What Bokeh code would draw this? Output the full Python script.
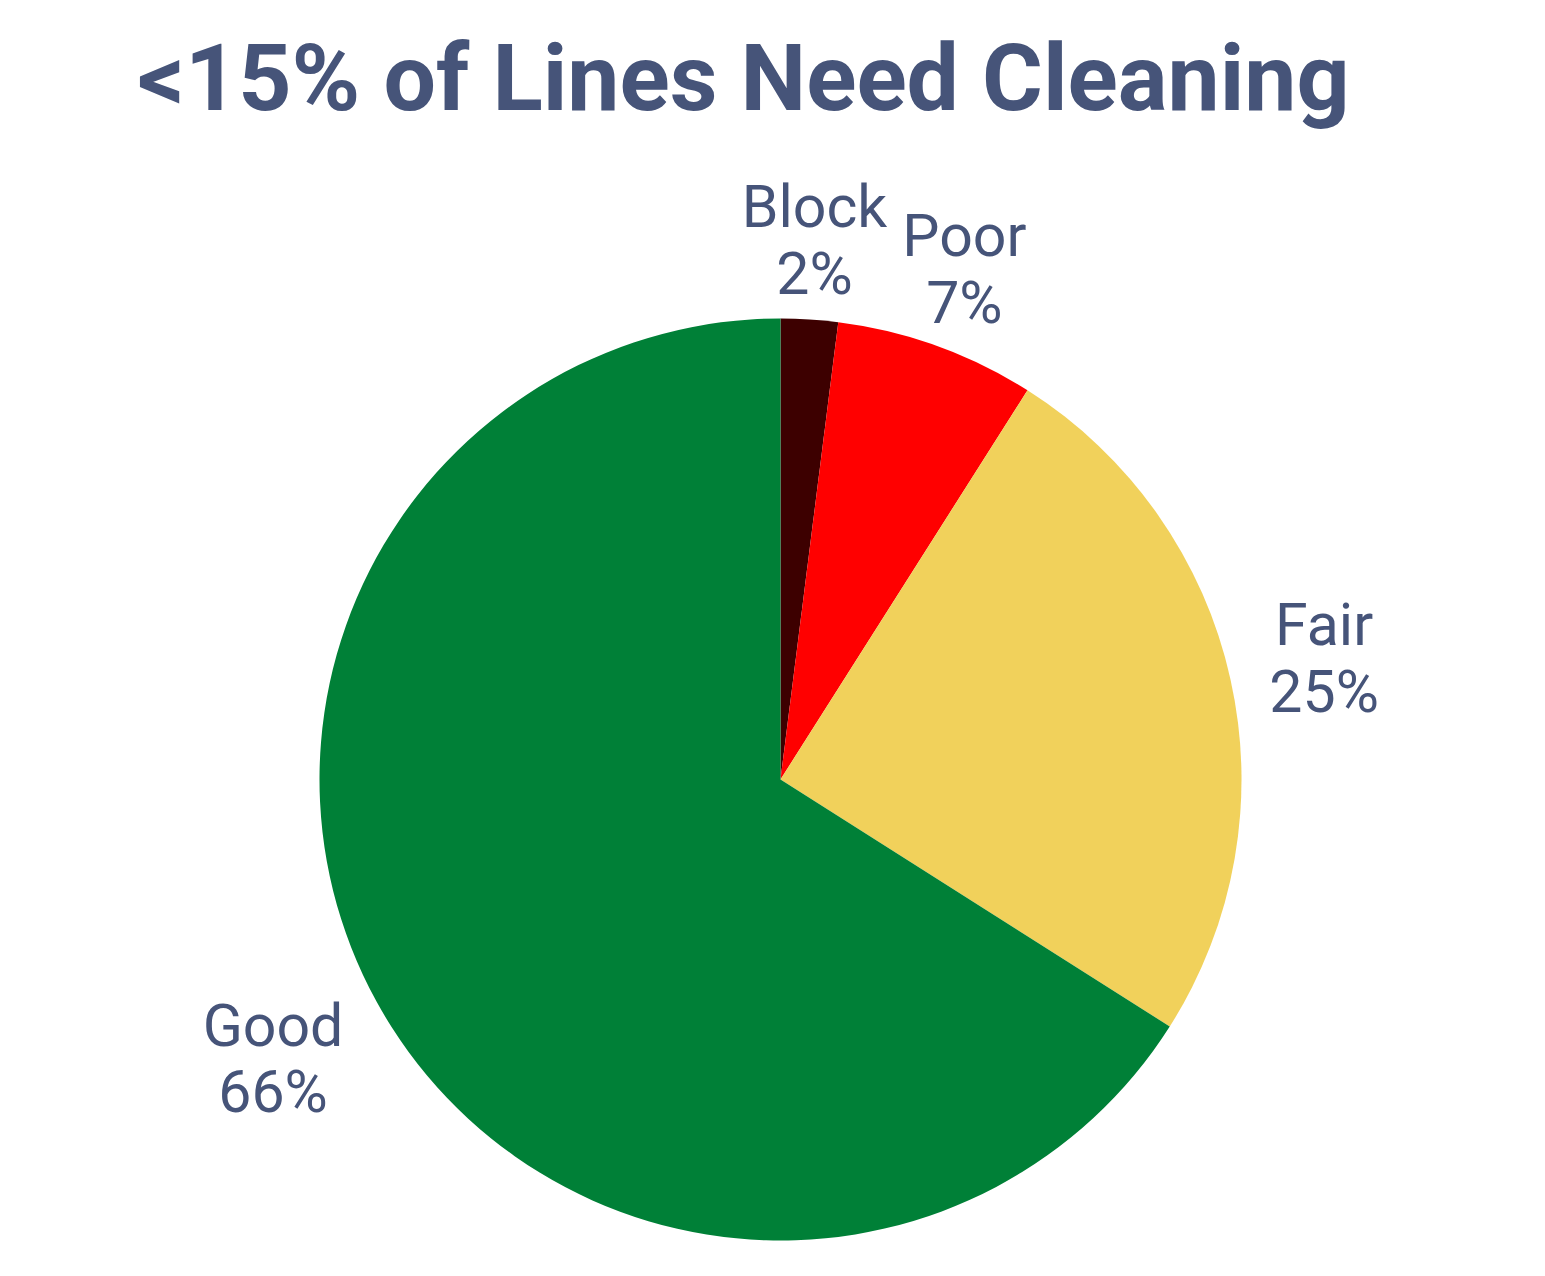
import math
from bokeh.plotting import figure
from bokeh.models import Range1d, ColumnDataSource
from bokeh.core.properties import value
from bokeh.embed import file_html
from bokeh.resources import INLINE

# ---- data ----
categories = ["Block", "Poor", "Fair", "Good"]
percents = [2, 7, 25, 66]
colors = ["#3d0000", "#ff0000", "#f1d15b", "#008037"]
title_text = "<15% of Lines Need Cleaning"

# ---- layout ----
W, H = 1529, 1260
TEXT_COLOR = "#465479"
cx, cy = 780, H - 779      # pie centre (y up)
R = 461
LABEL_FS = 59
GAP = 38

CHAR_W = {"F": 0.6, "a": 0.55, "i": 0.25, "r": 0.35, "G": 0.7, "o": 0.56,
          "d": 0.56, "P": 0.6, "B": 0.62, "l": 0.25, "c": 0.52, "k": 0.5,
          "%": 0.8}


def text_w(s):
    return sum(CHAR_W.get(ch, 0.56) for ch in s) * LABEL_FS


p = figure(width=W, height=H, x_range=Range1d(0, W), y_range=Range1d(0, H),
           output_backend="svg", toolbar_location=None, min_border=0,
           background_fill_color="white", border_fill_color="white")
p.axis.visible = False
p.grid.visible = False
p.outline_line_color = None

total = sum(percents)
starts, ends, lx, ly, labels = [], [], [], [], []
cum = 0.0
for cat, pc in zip(categories, percents):
    a0 = math.pi / 2 - 2 * math.pi * cum / total
    cum += pc
    a1 = math.pi / 2 - 2 * math.pi * cum / total
    starts.append(a0)
    ends.append(a1)
    mid = (a0 + a1) / 2
    ux, uy = math.cos(mid), math.sin(mid)
    pct = f"{pc}%"
    w = max(text_w(cat), text_w(pct))
    h = LABEL_FS * 1.4
    d = min((w / 2) / max(abs(ux), 1e-6), (h / 2) / max(abs(uy), 1e-6))
    r = R + GAP + d
    lx.append(cx + r * ux)
    ly.append(cy + r * uy)
    labels.append(f"{cat}\n{pct}")

src = ColumnDataSource(dict(start=starts, end=ends, color=colors,
                            x=[cx] * len(categories), y=[cy] * len(categories)))
p.wedge(x="x", y="y", radius=R, start_angle="start", end_angle="end",
        direction="clock", fill_color="color", line_color=None, source=src)

p.text(x=lx, y=ly, text=labels, text_align="center", text_baseline="middle",
       text_font=value("Roboto"), text_font_size=f"{LABEL_FS}px",
       text_line_height=0.97, text_color=TEXT_COLOR)

p.text(x=[137], y=[H - 78], text=[title_text], text_align="left",
       text_baseline="alphabetic", text_font=value("Roboto"),
       text_font_style="bold", text_font_size="93px", text_color=TEXT_COLOR)

open("out.html", "w").write(file_html(p, INLINE))
